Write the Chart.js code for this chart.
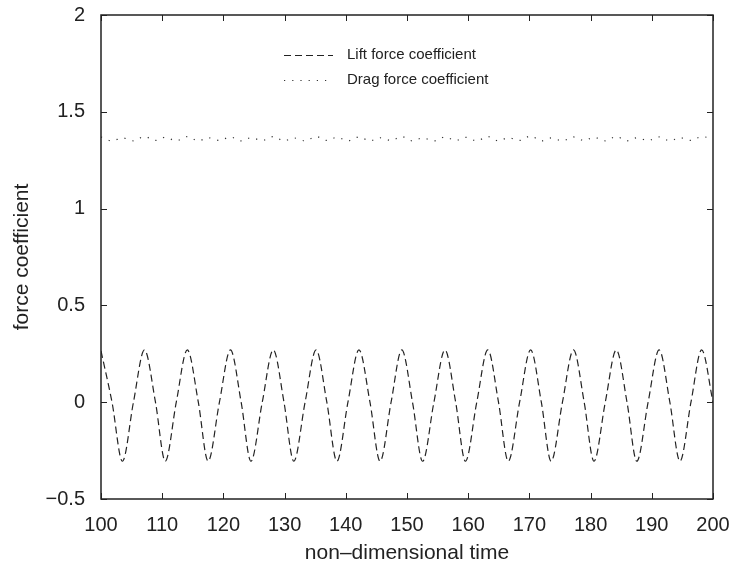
<!DOCTYPE html>
<html>
<head>
<meta charset="utf-8">
<script src="https://cdn.jsdelivr.net/npm/chart.js@4.4.1/dist/chart.umd.min.js"></script>
<style>
  html, body { margin: 0; padding: 0; background: #fff; }
  #wrap { width: 731px; height: 566px; }
</style>
</head>
<body>
<div id="wrap"><canvas id="forceChart" width="731" height="566"></canvas></div>
<script>
// Pontos: picos, cruzamentos de zero e vales do coeficiente de sustentação
const liftTime = [
    100.0, 101.8, 103.5, 105.3, 107.1, 108.9, 110.5, 112.3, 114.1, 115.9,
    117.5, 119.35, 121.15, 122.9, 124.5, 126.35, 128.15, 129.9, 131.5, 133.35,
    135.15, 136.9, 138.55, 140.35, 142.15, 143.95, 145.6, 147.4, 149.15, 150.9,
    152.55, 154.4, 156.2, 157.95, 159.55, 161.4, 163.2, 164.95, 166.55, 168.4,
    170.2, 171.95, 173.55, 175.4, 177.2, 178.95, 180.55, 182.4, 184.2, 185.95,
    187.55, 189.4, 191.2, 192.95, 194.6, 196.4, 198.15, 200.0
];
const liftValue = [
    0.265, 0, -0.305, 0, 0.27, 0, -0.305, 0, 0.27, 0,
    -0.305, 0, 0.27, 0, -0.305, 0, 0.27, 0, -0.305, 0,
    0.27, 0, -0.305, 0, 0.27, 0, -0.305, 0, 0.27, 0,
    -0.305, 0, 0.27, 0, -0.305, 0, 0.27, 0, -0.305, 0,
    0.27, 0, -0.305, 0, 0.27, 0, -0.305, 0, 0.27, 0,
    -0.305, 0, 0.27, 0, -0.305, 0, 0.27, 0
];
// Arrasto nos mesmos instantes (oscila com o dobro da frequência)
const dragValue = [
    1.37, 1.35, 1.365, 1.35, 1.372, 1.352, 1.368, 1.35, 1.372, 1.35,
    1.366, 1.352, 1.37, 1.35, 1.366, 1.352, 1.372, 1.35, 1.365, 1.35,
    1.372, 1.352, 1.368, 1.35, 1.37, 1.35, 1.366, 1.352, 1.372, 1.35,
    1.365, 1.35, 1.37, 1.352, 1.368, 1.35, 1.372, 1.35, 1.366, 1.352,
    1.375, 1.35, 1.365, 1.35, 1.37, 1.352, 1.368, 1.35, 1.372, 1.35,
    1.366, 1.352, 1.37, 1.35, 1.366, 1.352, 1.372, 1.36
];

const xTickValues = [100, 110, 120, 130, 140, 150, 160, 170, 180, 190, 200];
const yTickValues = [-0.5, 0, 0.5, 1, 1.5, 2];
const yTickLabels = ['\u22120.5', '0', '0.5', '1', '1.5', '2'];

const FONT = "'Liberation Sans', Arial, Helvetica, sans-serif";
const INK = '#222';

/**
 * Desenha a moldura, as marcas internas dos eixos e a legenda
 */
const molduraPlugin = {
    id: 'moldura',
    afterDraw(chart) {
        const { ctx, chartArea: a, scales: { x, y } } = chart;
        ctx.save();
        ctx.strokeStyle = INK;
        ctx.lineWidth = 1;
        ctx.beginPath();
        xTickValues.forEach(v => {
            const px = Math.round(x.getPixelForValue(v)) + 0.5;
            ctx.moveTo(px, a.bottom); ctx.lineTo(px, a.bottom - 6);
            ctx.moveTo(px, a.top); ctx.lineTo(px, a.top + 6);
        });
        yTickValues.forEach(v => {
            const py = Math.round(y.getPixelForValue(v)) + 0.5;
            ctx.moveTo(a.left, py); ctx.lineTo(a.left + 6, py);
            ctx.moveTo(a.right, py); ctx.lineTo(a.right - 6, py);
        });
        ctx.stroke();

        ctx.lineWidth = 1.5;
        ctx.strokeRect(a.left, a.top, a.right - a.left, a.bottom - a.top);

        // Legenda
        const linhas = [55, 80];
        chart.data.datasets.forEach((ds, i) => {
            const ly = linhas[i] + 0.5;
            ctx.beginPath();
            ctx.lineWidth = ds.borderWidth;
            ctx.strokeStyle = ds.borderColor;
            ctx.setLineDash(ds.borderDash);
            ctx.moveTo(284, ly);
            ctx.lineTo(333, ly);
            ctx.stroke();
            ctx.setLineDash([]);
            ctx.fillStyle = INK;
            ctx.font = '15px ' + FONT;
            ctx.textBaseline = 'middle';
            ctx.textAlign = 'left';
            ctx.fillText(ds.label, 347, linhas[i]);
        });
        ctx.restore();
    }
};

const ctx = document.getElementById('forceChart');
new Chart(ctx, {
    type: 'line',
    data: {
        datasets: [{
            label: 'Lift force coefficient',
            data: liftTime.map((t, i) => ({ x: t, y: liftValue[i] })),
            borderColor: INK,
            borderWidth: 1.2,
            borderDash: [7, 4],
            cubicInterpolationMode: 'monotone',
            pointRadius: 0,
            fill: false
        }, {
            label: 'Drag force coefficient',
            data: liftTime.map((t, i) => ({ x: t, y: dragValue[i] })),
            borderColor: '#333',
            borderWidth: 1.2,
            borderDash: [1.2, 7],
            cubicInterpolationMode: 'monotone',
            pointRadius: 0,
            fill: false
        }]
    },
    options: {
        responsive: false,
        animation: false,
        devicePixelRatio: 1,
        layout: { padding: { top: 15, right: 18, left: 0, bottom: 0 } },
        plugins: {
            legend: { display: false },
            tooltip: { enabled: false }
        },
        scales: {
            x: {
                type: 'linear',
                min: 100,
                max: 200,
                afterBuildTicks: scale => { scale.ticks = xTickValues.map(v => ({ value: v })); },
                afterFit: scale => {
                    scale.height = 67;
                    scale.paddingLeft = 0;
                    scale.paddingRight = 0;
                },
                grid: { display: false, drawTicks: false },
                border: { display: false },
                ticks: {
                    padding: 14,
                    autoSkip: false,
                    maxRotation: 0,
                    color: INK,
                    font: { family: FONT, size: 20 }
                },
                title: {
                    display: true,
                    text: 'non\u2013dimensional time',
                    color: INK,
                    font: { family: FONT, size: 21 },
                    padding: { top: 0, bottom: 0 }
                }
            },
            y: {
                min: -0.5,
                max: 2,
                afterBuildTicks: scale => { scale.ticks = yTickValues.map(v => ({ value: v })); },
                afterFit: scale => {
                    scale.width = 101;
                    scale.paddingTop = 0;
                    scale.paddingBottom = 0;
                },
                grid: { display: false, drawTicks: false },
                border: { display: false },
                ticks: {
                    padding: 16,
                    color: INK,
                    font: { family: FONT, size: 20 },
                    callback: function(value) {
                        const i = yTickValues.indexOf(value);
                        return i >= 0 ? yTickLabels[i] : '';
                    }
                },
                title: {
                    display: true,
                    text: 'force coefficient',
                    color: INK,
                    font: { family: FONT, size: 21 },
                    padding: { top: 10, bottom: 0 }
                }
            }
        }
    },
    plugins: [molduraPlugin]
});
</script>
</body>
</html>
